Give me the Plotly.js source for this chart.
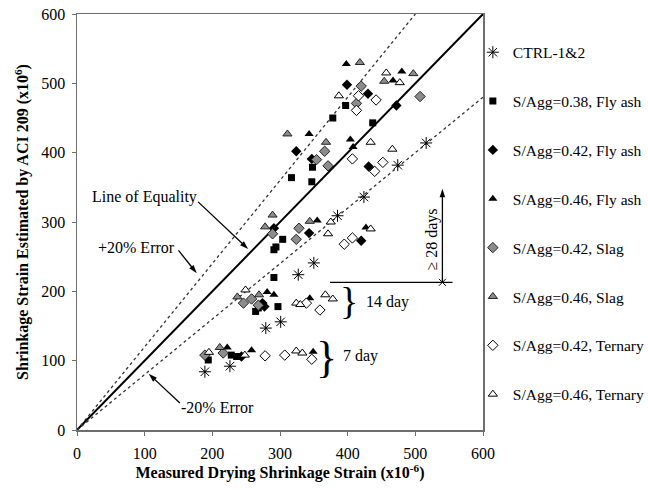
<!DOCTYPE html>
<html><head><meta charset="utf-8">
<script src="https://cdn.plot.ly/plotly-3.0.1.min.js"></script>
<style>html,body{margin:0;padding:0;background:#fff}</style>
</head><body><div id="chart" style="width:648px;height:489px"></div>
<script>
// Series names (legend categories)
const seriesNames = ["CTRL-1&2","S/Agg=0.38, Fly ash","S/Agg=0.42, Fly ash","S/Agg=0.46, Fly ash","S/Agg=0.42, Slag","S/Agg=0.46, Slag","S/Agg=0.42, Ternary","S/Agg=0.46, Ternary"];

// Measured (x) and estimated (y) shrinkage strain, x10^-6
const ctrlX = [189,226,279,301,327,350,385,424,474,516];
const ctrlY = [84,92,147,156,224,241,309,336,382,414];

const fa038X = [194,228,236,264,268,297,291,291,294,304,317,348,347,378,397,437];
const fa038Y = [101,108,106,171,176,178,220,260,264,275,364,379,358,450,468,443];

const fa042X = [243,274,277,291,343,420,324,347,399,430,472,431];
const fa042Y = [106,183,178,291,284,273,402,391,498,485,468,380];

const fa046X = [222,258,349,281,291,344,355,427,343,404,408,398,467,480];
const fa046Y = [119,115,113,199,195,190,302,292,427,419,408,528,504,517];

const slag042X = [189,216,246,258,268,289,328,324,354,366,371,413,420,507];
const slag042Y = [108,111,183,189,180,283,291,275,390,402,381,471,496,481];

const slag046X = [211,237,269,278,289,344,311,368,418,454,497];
const slag046Y = [119,192,195,293,310,301,427,415,530,503,514];

const tern042X = [278,307,347,339,359,395,407,407,413,416,442,440,452];
const tern042Y = [107,108,102,183,173,268,277,391,461,482,476,373,386];

const tern046X = [195,248,324,333,249,324,330,367,378,371,375,434,387,434,466,457,477];
const tern046Y = [112,108,114,111,202,183,181,195,189,283,300,290,482,415,405,515,501];

// Reference lines
const eqX = [0,600], eqY = [0,600];
const p20X = [0,500], p20Y = [0,600];
const m20X = [0,600], m20Y = [0,480];

// 28-day marker and callout arrows [tail, head]
const d28X = [540], d28Y = [213];
const arrowEqX = [179,253], arrowEqY = [329,261];
const arrowP20X = [150,177], arrowP20Y = [259,226];
const arrowM20X = [152,106], arrowM20Y = [39,81];
const arrow28X = [540,540], arrow28Y = [213,348];

const FONT = "Liberation Serif, Times New Roman, serif";

function pts(name, x, y, symbol, size, color, lineColor, lineWidth, group){
  return {type:"scatter", mode:"markers", name:name, x:x, y:y, legendgroup:group,
    marker:{symbol:symbol, size:size, color:color, line:{color:lineColor, width:lineWidth}},
    hoverinfo:"x+y"};
}
function arrow(x, y){
  return {type:"scatter", mode:"lines+markers", x:x, y:y, showlegend:false, hoverinfo:"skip",
    line:{color:"#000", width:1.3},
    marker:{symbol:"arrow", angleref:"previous", size:[0,9], opacity:[0,1], color:"#000", line:{width:0}}};
}

const traces = [
  {type:"scatter", mode:"lines", x:eqX, y:eqY, line:{color:"#000", width:2}, showlegend:false, hoverinfo:"skip"},
  {type:"scatter", mode:"lines", x:p20X, y:p20Y, line:{color:"#333", width:1.3, dash:"dot"}, showlegend:false, hoverinfo:"skip"},
  {type:"scatter", mode:"lines", x:m20X, y:m20Y, line:{color:"#333", width:1.3, dash:"dot"}, showlegend:false, hoverinfo:"skip"},
  arrow(arrowEqX, arrowEqY),
  arrow(arrowP20X, arrowP20Y),
  arrow(arrowM20X, arrowM20Y),
  arrow(arrow28X, arrow28Y),
  pts(seriesNames[0], ctrlX, ctrlY, "asterisk-open", 10, "#000", "#000", 1, "g0"),
  pts(seriesNames[1], fa038X, fa038Y, "square", 7, "#000", "#000", 0, "g1"),
  pts(seriesNames[2], fa042X, fa042Y, "diamond", 8, "#000", "#000", 0, "g2"),
  pts(seriesNames[3], fa046X, fa046Y, "triangle-up", 8, "#000", "#000", 0, "g3"),
  pts(seriesNames[4], slag042X, slag042Y, "diamond", 8, "#8c8c8c", "#222", 1, "g4"),
  pts(seriesNames[5], slag046X, slag046Y, "triangle-up", 8, "#8c8c8c", "#222", 1, "g5"),
  pts(seriesNames[6], tern042X, tern042Y, "diamond", 8, "#fff", "#000", 1, "g6"),
  pts(seriesNames[7], tern046X, tern046Y, "triangle-up", 8, "#fff", "#000", 1, "g7"),
  {type:"scatter", mode:"markers", x:d28X, y:d28Y, marker:{symbol:"x-thin-open", size:7, color:"#000", line:{color:"#000", width:1}}, showlegend:false, hoverinfo:"skip"}
];

const axisCommon = {
  range:[0,600], dtick:100, tick0:0, showgrid:false, zeroline:false,
  showline:true, mirror:true, linecolor:"#6e6e6e", linewidth:1.5,
  ticks:"outside", ticklen:4, tickcolor:"#6e6e6e",
  tickfont:{family:FONT, size:16, color:"#000"}, fixedrange:true
};

const annFont = {family:FONT, size:16, color:"#000"};

const layout = {
  width:648, height:489,
  margin:{l:77, r:165, t:14, b:59, autoexpand:false},
  paper_bgcolor:"#fff", plot_bgcolor:"#fff",
  font:{family:FONT, color:"#000"},
  xaxis:Object.assign({}, axisCommon, {
    ticklabelstandoff:4,
    title:{text:"<b>Measured Drying Shrinkage Strain (x10<sup>-6</sup>)</b>", font:{family:FONT, size:16, color:"#000"}, standoff:3}
  }),
  yaxis:Object.assign({}, axisCommon, {
    ticklabelstandoff:3,
    title:{text:"<b>Shrinkage Strain Estimated by ACI 209 (x10<sup>6</sup>)</b>", font:{family:FONT, size:16, color:"#000"}, standoff:8}
  }),
  showlegend:true,
  legend:{x:0.975, xanchor:"left", y:0.948, yanchor:"top", bgcolor:"rgba(0,0,0,0)",
    font:{family:FONT, size:15.5, color:"#000"}, tracegroupgap:25.7, itemsizing:"trace"},
  shapes:[
    {type:"line", xref:"x", yref:"y", x0:374, x1:555, y0:213, y1:213, line:{color:"#000", width:1.2}}
  ],
  annotations:[
    {xref:"x", yref:"y", x:100, y:336, text:"Line of Equality", showarrow:false, font:annFont},
    {xref:"x", yref:"y", x:88, y:263, text:"+20% Error", showarrow:false, font:annFont},
    {xref:"x", yref:"y", x:207, y:32, text:"-20% Error", showarrow:false, font:annFont},
    {xref:"x", yref:"y", x:524, y:274, text:"\u2265 28 days", textangle:-90, showarrow:false, font:annFont},
    {xref:"x", yref:"y", x:402, y:186, text:"}", showarrow:false, font:{family:FONT, size:38, color:"#000"}},
    {xref:"x", yref:"y", x:424, y:185, xanchor:"left", text:"14 day", showarrow:false, font:annFont},
    {xref:"x", yref:"y", x:368, y:105, text:"}", showarrow:false, font:{family:FONT, size:44, color:"#000"}},
    {xref:"x", yref:"y", x:390, y:107, xanchor:"left", text:"7 day", showarrow:false, font:annFont}
  ]
};

Plotly.newPlot("chart", traces, layout, {displayModeBar:false, staticPlot:true});
</script>
</body></html>
